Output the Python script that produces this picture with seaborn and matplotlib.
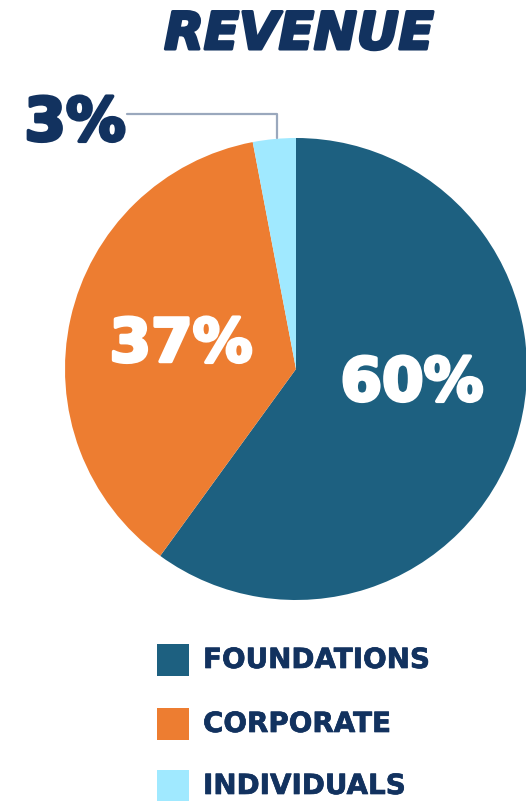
import matplotlib
matplotlib.use("Agg")
import matplotlib.pyplot as plt
from matplotlib.patches import Rectangle
import matplotlib.patheffects as pe
import seaborn as sns

categories = ["FOUNDATIONS", "CORPORATE", "INDIVIDUALS"]
values = [60, 37, 3]
labels = ["60%", "37%", "3%"]
colors = ["#1D6080", "#ED7D31", "#A0E9FF"]
title = "REVENUE"
navy = "#12325F"

sns.set_theme(style="white")
plt.rcParams['font.family'] = ['DejaVu Sans']

W, H = 526, 801
fig = plt.figure(figsize=(W / 100, H / 100), dpi=100)
fig.patch.set_facecolor("white")

cx, cy, R = 296, 369, 231
ax = fig.add_axes([(cx - R) / W, (H - cy - R) / H, 2 * R / W, 2 * R / H])
wedges, _ = ax.pie(values, colors=colors, startangle=90, counterclock=False,
                   radius=1, wedgeprops=dict(linewidth=0))
for w in wedges:
    w.set_clip_on(False)
ax.set_xlim(-1, 1)
ax.set_ylim(-1, 1)
ax.set_aspect("equal")
ax.axis("off")

def d(px, py):
    return ((px - cx) / R, (cy - py) / R)

def thick(c, lw):
    return [pe.withStroke(linewidth=lw, foreground=c)]

fs_big = 43
ax.text(*d(412, 384), labels[0], color="white", fontsize=fs_big, fontweight="bold",
        ha="center", va="center", path_effects=thick("white", 2.5))
ax.text(*d(181, 345), labels[1], color="white", fontsize=fs_big, fontweight="bold",
        ha="center", va="center", path_effects=thick("white", 2.5))
ax.text(*d(75, 124), labels[2], color=navy, fontsize=fs_big, fontweight="bold",
        ha="center", va="center", clip_on=False, path_effects=thick(navy, 2.5))

# leader line
xs = [d(127, 114)[0], d(277, 114)[0], d(277, 138)[0]]
ys = [d(127, 114)[1], d(277, 114)[1], d(277, 138)[1]]
ax.plot(xs, ys, color="#9AA8BD", linewidth=1.6, clip_on=False)

fig.text(299 / W, 1 - 35 / H, title, color=navy, fontsize=37, fontweight="bold",
         fontstyle="italic", ha="center", va="center", path_effects=thick(navy, 2.2))

# legend
leg_y = [660, 724, 786]
for lab, col, y in zip(categories, colors, leg_y):
    fig.add_artist(Rectangle((157 / W, 1 - (y + 16) / H), 32 / W, 32 / H,
                             transform=fig.transFigure, facecolor=col, edgecolor="none"))
    fig.text(203 / W, 1 - y / H, lab, color=navy, fontsize=20, fontweight="bold",
             ha="left", va="center", path_effects=thick(navy, 0.5))

fig.savefig("out.png", dpi=100, facecolor="white")
